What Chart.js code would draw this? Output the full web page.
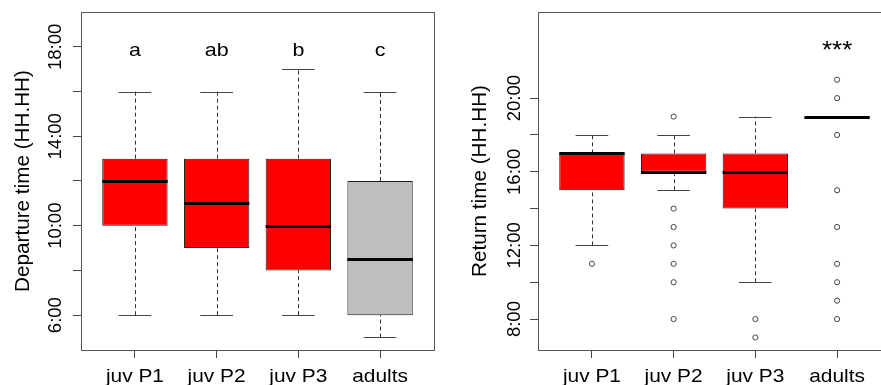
<!DOCTYPE html>
<html><head><meta charset="utf-8">
<script src="https://cdn.jsdelivr.net/npm/chart.js@4/dist/chart.umd.min.js"></script>
<style>
html,body{margin:0;padding:0;background:#fff;overflow:hidden;width:881px;height:385px;}
#wrap{position:relative;width:881px;height:385px;overflow:hidden;background:#fff;}
canvas{position:absolute;top:0;}
</style></head><body>
<div id="wrap">
<canvas id="dep" width="440" height="385" style="left:0px"></canvas>
<canvas id="ret" width="460" height="385" style="left:440px"></canvas>
</div>
<script>
// ---------- data ----------
const groups = ['juv P1', 'juv P2', 'juv P3', 'adults'];
const boxColors = ['#FF0000', '#FF0000', '#FF0000', '#BEBEBE'];
const retBoxColors = ['#FF0000', '#FF0000', '#FF0000', '#FF0000'];

// Departure time (hours)
const depWhiskerLow  = [6, 6, 6, 5];
const depQ1          = [10, 9, 8, 6];
const depMedian      = [12, 11, 10, 8.5];
const depQ3          = [13, 13, 13, 12];
const depWhiskerHigh = [16, 16, 17, 16];
const depOutliers    = [[], [], [], []];
const depLetters     = ['a', 'ab', 'b', 'c'];
const depLetterY     = 18;
const depYLim        = [5, 19];
const depTicks       = [6, 8, 10, 12, 14, 16, 18];
const depTickLabels  = ['6:00', '', '10:00', '', '14:00', '', '18:00'];
const depTitle       = 'Departure time (HH.HH)';

// Return time (hours)
const retWhiskerLow  = [12, 15, 10, 19];
const retQ1          = [15, 16, 14, 19];
const retMedian      = [17, 16, 16, 19];
const retQ3          = [17, 17, 17, 19];
const retWhiskerHigh = [18, 18, 19, 19];
const retOutliers    = [[11], [19, 14, 13, 12, 11, 10, 8], [8, 7], [21, 20, 18, 15, 13, 11, 10, 9, 8]];
const retLetters     = ['', '', '', '***'];
const retLetterY     = 23;
const retYLim        = [7, 24];
const retTicks       = [8, 10, 12, 14, 16, 18, 20];
const retTickLabels  = ['8:00', '', '12:00', '', '16:00', '', '20:00'];
const retTitle       = 'Return time (HH.HH)';

const xLim = [0.5, 4.5];

// ---------- helpers ----------
function ext(lim) { const d = (lim[1] - lim[0]) * 0.04; return [lim[0] - d, lim[1] + d]; }
const FONT = "'Liberation Sans', Arial, sans-serif";

function seg(ctx, x1, y1, x2, y2) { ctx.beginPath(); ctx.moveTo(x1, y1); ctx.lineTo(x2, y2); ctx.stroke(); }
function hText(ctx, s, x, y, sx) { ctx.save(); ctx.translate(x, y); ctx.scale(sx, 1); ctx.fillText(s, 0, 0); ctx.restore(); }
function vText(ctx, s, x, y) { ctx.save(); ctx.translate(x, y); ctx.rotate(-Math.PI / 2); ctx.fillText(s, 0, 0); ctx.restore(); }

const boxExtras = {
  id: 'boxExtras',
  afterDatasetsDraw(chart, args, o) {
    const { ctx, chartArea: a, scales: { x, y } } = chart;
    ctx.save();
    for (let i = 0; i < o.q1.length; i++) {
      const cx = Math.round(x.getPixelForValue(i + 1)) + 0.5;
      // whiskers (dashed)
      ctx.strokeStyle = '#333'; ctx.lineWidth = 1; ctx.setLineDash([4, 3]);
      seg(ctx, cx, y.getPixelForValue(o.wLow[i]), cx, y.getPixelForValue(o.q1[i]));
      seg(ctx, cx, y.getPixelForValue(o.q3[i]), cx, y.getPixelForValue(o.wHigh[i]));
      ctx.setLineDash([]);
      // caps
      ctx.strokeStyle = '#444';
      const cl = x.getPixelForValue(i + 1 - 0.2), cr = x.getPixelForValue(i + 1 + 0.2);
      [o.wLow[i], o.wHigh[i]].forEach(v => {
        const py = Math.round(y.getPixelForValue(v)) + 0.5;
        seg(ctx, cl, py, cr, py);
      });
      // median
      ctx.strokeStyle = '#000'; ctx.lineWidth = 3;
      const ml = x.getPixelForValue(i + 1 - 0.4), mr = x.getPixelForValue(i + 1 + 0.4);
      const pm = Math.round(y.getPixelForValue(o.med[i])) + 0.5;
      seg(ctx, ml, pm, mr, pm);
    }
    // frame
    ctx.strokeStyle = '#555'; ctx.lineWidth = 1;
    ctx.strokeRect(Math.round(a.left) + 0.5, Math.round(a.top) + 0.5,
                   Math.round(a.right) - Math.round(a.left), Math.round(a.bottom) - Math.round(a.top));
    ctx.restore();
  },
  afterDraw(chart, args, o) {
    const { ctx, chartArea: a, scales: { x, y } } = chart;
    ctx.save();
    ctx.fillStyle = '#000';
    ctx.textAlign = 'center'; ctx.textBaseline = 'alphabetic';
    // x labels
    ctx.font = '18.5px ' + FONT;
    groups.forEach((g, i) => hText(ctx, g, x.getPixelForValue(i + 1), a.bottom + 31.5, 1.13));
    // y tick labels
    o.ticks.forEach((v, i) => { if (o.tickLabels[i]) vText(ctx, o.tickLabels[i], a.left - o.tickOff, y.getPixelForValue(v)); });
    // y title
    ctx.font = '20.7px ' + FONT;
    vText(ctx, o.title, a.left - 52.5, (a.top + a.bottom) / 2);
    // letters
    ctx.font = o.letterFont + ' ' + FONT;
    o.letters.forEach((s, i) => { if (s) hText(ctx, s, x.getPixelForValue(i + 1), y.getPixelForValue(o.letterY) + o.letterOff, 1.13); });
    ctx.restore();
  }
};

function makeChart(id, d) {
  const yl = ext(d.ylim), xl = ext(xLim);
  const outlierPts = [];
  d.out.forEach((arr, i) => arr.forEach(v => outlierPts.push({ x: i + 1, y: v })));
  return new Chart(document.getElementById(id), {
    type: 'bar',
    data: {
      datasets: [
        {
          type: 'bar',
          data: groups.map((g, i) => ({ x: i + 1, y: [d.q1[i], d.q3[i]] })),
          backgroundColor: d.colors,
          borderColor: '#1a1a1a',
          borderWidth: 1,
          borderSkipped: false,
          categoryPercentage: 1,
          barPercentage: 0.8
        },
        {
          type: 'scatter',
          data: outlierPts,
          pointStyle: 'circle',
          pointRadius: 2.6,
          pointBorderWidth: 1,
          pointBorderColor: '#444',
          pointBackgroundColor: 'rgba(255,255,255,0)',
          showLine: false
        }
      ]
    },
    options: {
      responsive: false,
      devicePixelRatio: 1,
      animation: false,
      layout: { padding: { top: 12, right: d.padRight, left: 0, bottom: 0 } },
      plugins: {
        legend: { display: false },
        tooltip: { enabled: false },
        boxExtras: {
          q1: d.q1, q3: d.q3, med: d.med, wLow: d.wLow, wHigh: d.wHigh,
          ticks: d.ticks, tickLabels: d.tickLabels, title: d.title,
          letters: d.letters, letterY: d.letterY, letterOff: d.letterOff, letterFont: d.letterFont,
          tickOff: d.tickOff
        }
      },
      scales: {
        x: {
          type: 'linear', min: xl[0], max: xl[1], offset: false,
          grid: { drawOnChartArea: false, drawTicks: true, tickLength: 8, color: '#444', offset: false },
          border: { display: false },
          ticks: { display: false },
          afterBuildTicks: s => { s.ticks = groups.map((g, i) => ({ value: i + 1 })); },
          afterFit: s => { s.height = 35; }
        },
        y: {
          type: 'linear', min: yl[0], max: yl[1],
          grid: { drawOnChartArea: false, drawTicks: true, tickLength: 8, color: '#444' },
          border: { display: false },
          ticks: { display: false },
          afterBuildTicks: s => { s.ticks = d.ticks.map(v => ({ value: v })); },
          afterFit: s => { s.width = d.axisWidth; }
        }
      }
    },
    plugins: [boxExtras]
  });
}

makeChart('dep', {
  q1: depQ1, q3: depQ3, med: depMedian, wLow: depWhiskerLow, wHigh: depWhiskerHigh, out: depOutliers,
  colors: boxColors, ylim: depYLim, ticks: depTicks, tickLabels: depTickLabels, title: depTitle,
  letters: depLetters, letterY: depLetterY, letterOff: 9, letterFont: '19px',
  axisWidth: 81, padRight: 6, tickOff: 20.5
});
makeChart('ret', {
  q1: retQ1, q3: retQ3, med: retMedian, wLow: retWhiskerLow, wHigh: retWhiskerHigh, out: retOutliers,
  colors: retBoxColors, ylim: retYLim, ticks: retTicks, tickLabels: retTickLabels, title: retTitle,
  letters: retLetters, letterY: retLetterY, letterOff: 15, letterFont: '23px',
  axisWidth: 98, padRight: 9, tickOff: 18.5
});
</script>
</body></html>
